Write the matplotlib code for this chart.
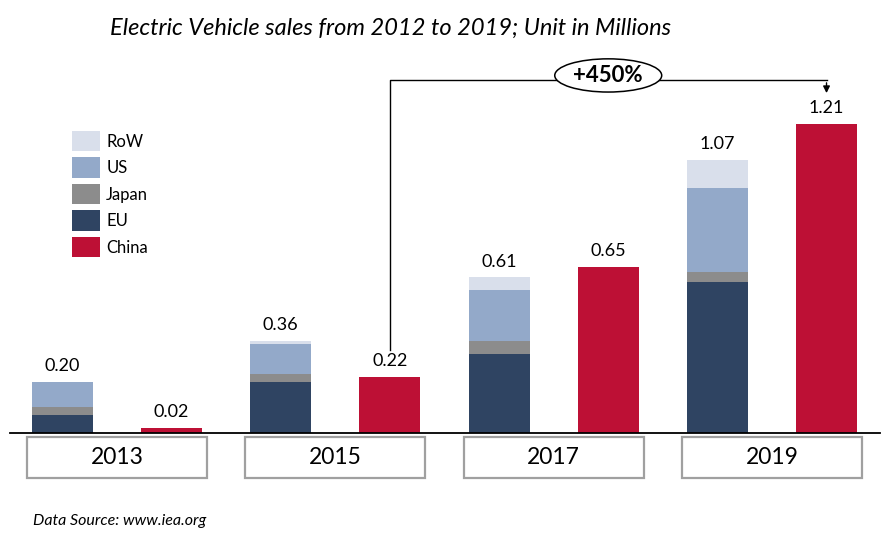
import matplotlib.pyplot as plt
from matplotlib.patches import Rectangle, Ellipse
import numpy as np

plt.rcParams['font.family'] = ['Lato', 'DejaVu Sans']

### Daten (in Millionen)
years = ["2013", "2015", "2017", "2019"]
eu = [0.07, 0.20, 0.31, 0.59]
japan = [0.03, 0.03, 0.05, 0.04]
us = [0.10, 0.12, 0.20, 0.33]
row = [0.00, 0.01, 0.05, 0.11]
china = [0.02, 0.22, 0.65, 1.21]
stack_totals = ["0.20", "0.36", "0.61", "1.07"]
china_labels = ["0.02", "0.22", "0.65", "1.21"]
growth_label = "+450%"

col_row = '#D9DFEB'
col_us = '#93A9C9'
col_japan = '#8C8C8C'
col_eu = '#2F4462'
col_china = '#BD1035'

fig = plt.figure(figsize=(8.91, 5.38), dpi=100)
# Achse so gelegt, dass Grundlinie bei y=433px liegt
ax = fig.add_axes([10/891, 105/538, 870/891, 383/538])

x_stack = np.arange(len(years)) * 2
x_china = x_stack + 1
w = 0.56

b1 = np.array(eu)
b2 = b1 + np.array(japan)
b3 = b2 + np.array(us)
ax.bar(x_stack, eu, w, color=col_eu, label='EU')
ax.bar(x_stack, japan, w, bottom=b1, color=col_japan, label='Japan')
ax.bar(x_stack, us, w, bottom=b2, color=col_us, label='US')
ax.bar(x_stack, row, w, bottom=b3, color=col_row, label='RoW')
ax.bar(x_china, china, w, color=col_china, label='China')

tops = b3 + np.array(row)
for xi, t, lab in zip(x_stack, tops, stack_totals):
    ax.text(xi, t + 0.03, lab, ha='center', va='bottom', fontsize=13)
for xi, t, lab in zip(x_china, china, china_labels):
    ax.text(xi, t + 0.03, lab, ha='center', va='bottom', fontsize=13)

ax.set_xlim(-0.481, 7.49)
ax.set_ylim(0, 383/255.4)
for s in ['top', 'right', 'left']:
    ax.spines[s].set_visible(False)
ax.spines['bottom'].set_linewidth(1.3)
ax.set_xticks([])
ax.set_yticks([])

# Jahres-Kaesten unter der Achse
for xs, y in zip(x_stack, years):
    xc = xs + 0.5
    ax.add_patch(Rectangle((xc - 0.825, -0.176), 1.65, 0.16, fill=False,
                           edgecolor='#A0A0A0', lw=1.6, clip_on=False))
    ax.text(xc, -0.096, y, ha='center', va='center', fontsize=16.5)

# Wachstums-Pfeil China 2015 -> 2019
y_line = 1.382
ax.plot([x_china[1], x_china[1], x_china[3]], [0.325, y_line, y_line],
        color='black', lw=1, clip_on=False)
ax.annotate('', xy=(x_china[3], 1.32), xytext=(x_china[3], y_line),
            arrowprops=dict(arrowstyle='-|>', color='black', lw=1, mutation_scale=10),
            annotation_clip=False)
xm = (x_china[1] + x_china[3]) / 2
ax.add_patch(Ellipse((xm, 1.40), 0.98, 0.13, facecolor='white',
                     edgecolor='black', lw=1.1, clip_on=False, zorder=3))
ax.text(xm, 1.398, growth_label, ha='center', va='center', fontsize=16,
        fontweight='bold', zorder=4)

# Legende
handles, labels = ax.get_legend_handles_labels()
order = [3, 2, 1, 0, 4]
ax.legend([handles[i] for i in order], [labels[i] for i in order],
          loc='upper left', bbox_to_anchor=(72/891, 1 - 131/538),
          bbox_transform=fig.transFigure, frameon=False, fontsize=12,
          borderpad=0, borderaxespad=0,
          handlelength=1.65, handleheight=1.5, labelspacing=0.37, handletextpad=0.4)

fig.text(110/891, 1 - 28/538, "Electric Vehicle sales from 2012 to 2019; Unit in Millions",
         ha='left', va='center', fontsize=17, style='italic')
fig.text(33/891, 1 - 521/538, "Data Source: www.iea.org", ha='left', va='center',
         fontsize=11.5, style='italic')

plt.savefig('out.png', dpi=100)
plt.close()
